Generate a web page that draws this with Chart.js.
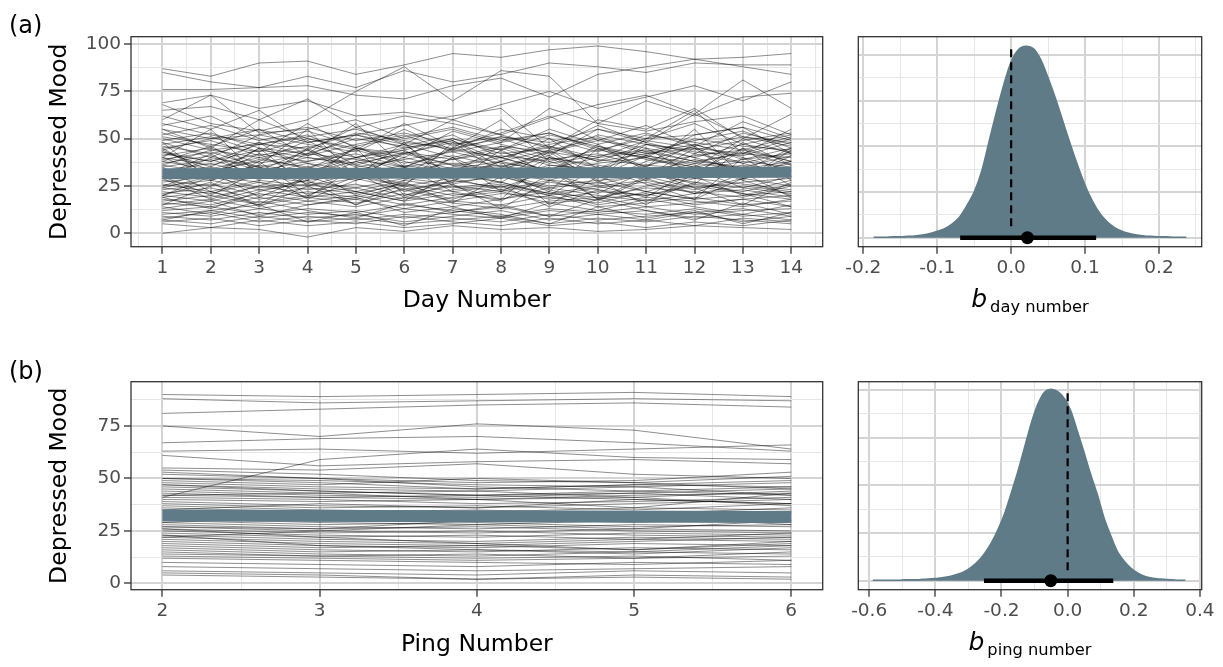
<!DOCTYPE html>
<html>
<head>
<meta charset="utf-8">
<script src="https://cdn.jsdelivr.net/npm/chart.js@4.4.1/dist/chart.umd.min.js"></script>
<style>
  html, body { margin: 0; padding: 0; background: #fff; }
  canvas { position: absolute; }
</style>
</head>
<body>
<canvas id="dayLines" style="left:0;top:0" width="840" height="330"></canvas>
<canvas id="dayPost" style="left:840px;top:0" width="383" height="330"></canvas>
<canvas id="pingLines" style="left:0;top:340px" width="840" height="327"></canvas>
<canvas id="pingPost" style="left:840px;top:340px" width="383" height="327"></canvas>
<script>
// ---- data ----
const dayNumbers = [1, 2, 3, 4, 5, 6, 7, 8, 9, 10, 11, 12, 13, 14];
const pingNumbers = [2, 3, 4, 5, 6];

// one row per participant, one value per day
const dayMood = [
  [87,83,90,91,84,89,95,93,97,99,96,92,93,95],
  [85,80,77,83,77,86,80,84,90,88,85,90,89,89],
  [76,76,77,78,73,71,78,82,72,84,88,92,88,84],
  [69,73,66,70,62,64,60,68,75,66,72,78,70,80],
  [68,58,54,60,75,88,70,86,83,58,70,62,72,74],
  [65,67,60,71,56,62,58,52,61,68,73,63,81,66],
  [62,55,65,48,52,57,62,66,45,60,55,66,50,63],
  [60,73,53,55,60,50,55,48,66,58,54,59,62,52],
  [55,50,52,56,49,53,47,51,48,55,50,52,56,49],
  [53,46,55,48,52,45,50,44,55,47,53,46,51,48],
  [52,57,49,54,46,51,56,49,53,44,50,58,47,52],
  [50,44,47,51,55,48,45,50,42,52,47,44,49,53],
  [49,53,45,42,50,46,52,40,47,51,43,49,54,45],
  [48,40,52,47,43,55,44,51,46,40,49,45,42,50],
  [47,51,43,50,45,42,48,44,52,46,41,50,46,44],
  [46,42,48,41,52,47,40,46,43,49,45,40,47,43],
  [45,49,41,46,40,44,50,42,45,38,47,43,41,48],
  [55,45,60,50,44,58,46,53,62,49,57,46,59,50],
  [57,62,50,44,56,47,60,52,45,57,48,63,51,46],
  [44,50,55,41,47,52,43,48,53,45,40,52,56,42],
  [51,47,43,58,45,40,54,47,41,55,48,42,53,47],
  [43,38,47,52,40,45,49,38,44,50,42,47,39,45],
  [58,52,47,45,53,49,44,55,50,43,52,48,44,51],
  [42,38,44,40,36,43,39,45,37,41,44,38,42,40],
  [41,45,37,42,39,35,44,40,46,38,42,45,37,43],
  [40,36,42,38,44,37,41,35,43,39,36,41,44,38],
  [39,43,35,40,37,42,36,41,38,44,40,35,39,42],
  [38,34,40,44,35,39,43,37,34,40,43,38,35,41],
  [37,41,33,38,42,35,39,43,36,34,41,37,43,36],
  [36,32,39,35,40,33,37,34,40,36,32,39,34,38],
  [35,39,31,37,33,40,34,38,32,37,40,33,38,35],
  [34,30,36,32,38,31,35,40,33,30,36,34,31,37],
  [33,37,30,35,31,36,32,29,36,33,30,37,34,31],
  [32,28,35,30,34,29,33,36,30,34,29,32,36,30],
  [31,35,29,33,28,34,30,32,28,35,31,29,33,34],
  [45,30,42,28,46,35,27,44,31,47,33,26,45,38],
  [30,42,28,45,32,26,40,29,43,27,38,46,29,41],
  [43,35,48,32,40,47,30,38,50,34,45,31,48,36],
  [38,46,33,44,30,42,49,35,41,29,47,40,33,45],
  [29,40,35,26,38,44,31,27,40,35,28,42,37,30],
  [44,33,38,49,36,31,45,40,33,46,39,35,50,42],
  [36,44,40,34,45,38,32,46,39,42,35,47,40,33],
  [40,31,45,37,29,43,36,33,44,30,41,36,28,44],
  [28,25,30,27,24,29,26,31,25,28,30,24,27,29],
  [27,30,24,28,31,25,29,23,28,26,31,27,24,30],
  [26,22,28,25,29,23,27,30,24,27,22,29,26,23],
  [25,28,23,26,22,28,24,27,21,25,28,23,29,25],
  [24,21,27,23,26,20,25,22,27,23,20,26,22,28],
  [23,26,20,24,21,26,22,25,20,24,27,21,25,22],
  [22,19,25,21,24,18,23,26,21,19,24,22,19,25],
  [21,24,18,22,19,25,20,23,18,22,20,25,21,18],
  [20,17,23,19,22,17,21,18,24,20,17,21,23,19],
  [19,22,16,20,18,23,17,21,19,16,22,18,20,22],
  [18,15,21,17,20,15,19,22,16,18,21,15,18,20],
  [17,20,15,19,16,21,14,18,22,15,19,17,14,18],
  [16,14,19,15,18,13,17,15,20,14,16,19,15,17],
  [15,18,13,17,14,19,16,13,17,19,14,16,18,14],
  [30,20,33,18,28,35,22,17,31,25,19,34,24,21],
  [25,33,19,30,22,17,32,27,20,35,26,18,29,33],
  [20,27,14,25,32,19,26,13,28,21,33,24,15,27],
  [29,18,25,34,20,27,16,30,23,17,29,21,32,19],
  [24,30,27,19,35,22,28,24,33,18,25,30,20,26],
  [19,13,22,28,15,24,18,25,14,23,17,27,21,14],
  [12,14,10,13,11,15,12,9,13,11,14,10,12,13],
  [11,9,13,10,12,8,11,14,9,12,10,13,9,11],
  [10,12,8,11,9,13,10,8,12,10,7,11,13,9],
  [9,7,11,8,10,6,9,12,7,10,12,8,10,7],
  [8,11,6,9,7,10,8,6,10,7,9,11,6,9],
  [7,5,9,6,8,5,7,9,5,8,6,9,7,5],
  [6,8,4,7,5,9,6,4,8,5,7,4,8,6],
  [5,3,7,4,6,3,5,8,4,6,3,6,4,7],
  [0,3,2,-2,3,1,4,2,3,1,2,4,3,2],
  [14,10,17,12,8,16,11,15,9,18,12,7,16,10],
  [13,17,9,15,19,11,14,8,16,12,18,14,10,15],
  [7,12,15,6,11,4,13,10,5,14,8,12,5,11],
  [20,30,45,25,15,28,40,22,35,18,30,45,28,20],
  [35,22,15,30,45,20,28,38,15,30,22,18,40,25],
  [48,28,36,55,30,25,48,32,22,45,35,55,30,38],
  [15,25,38,20,30,48,25,18,40,28,15,32,45,28],
  [40,55,30,42,58,35,45,60,38,30,50,65,42,55]
];

// one row per participant, one value per ping
const pingMood = [
  [90,89,90,91,89], [88,86,87,88,87], [81,83,85,86,84], [75,70,76,73,64],
  [67,69,70,67,63], [63,64,62,64,66], [61,56,58,59,57], [41,59,64,60,59],
  [55,54,57,52,50], [54,52,49,48,51], [52,50,48,49,53], [50,49,47,46,48],
  [49,47,50,48,45], [48,46,45,47,49], [47,45,44,46,42], [46,44,42,43,45],
  [45,43,44,41,44], [44,42,41,43,40], [43,41,40,42,43], [42,41,42,40,38],
  [41,40,38,39,41], [40,39,40,41,37], [39,37,36,38,40], [38,36,37,35,38],
  [37,35,34,36,35], [36,34,35,33,36], [35,33,32,34,33], [34,32,33,31,34],
  [33,31,30,32,30], [32,30,31,29,31], [31,29,28,30,29], [30,28,29,27,28],
  [29,27,26,28,27], [28,26,27,25,24], [27,25,24,26,25], [26,24,25,23,22],
  [25,23,22,24,23], [24,22,23,21,24], [23,21,20,22,21], [22,20,19,21,20],
  [21,19,18,20,22], [20,18,17,19,18], [19,17,18,16,19], [18,16,15,17,16],
  [17,15,16,14,17], [16,14,13,15,14], [15,13,14,12,15], [14,13,12,13,11],
  [13,12,11,12,13], [12,11,10,9,11], [10,9,8,10,9], [8,7,6,7,8],
  [6,5,4,6,5], [5,4,2,4,3], [4,3,2,3,2], [50,48,45,47,46],
  [42,43,40,36,43], [27,26,30,32,28], [22,25,28,26,30], [35,38,36,40,38],
  [47,44,42,44,46], [26,22,19,16,20], [23,18,16,15,18], [53,50,46,44,42],
  [29,32,33,30,34]
];

// fitted average line (value at first and last occasion)
const dayTrendX = [1, 14];
const dayTrend = [31.4, 32.3];
const pingTrendX = [2, 6];
const pingTrend = [32.3, 31.6];

// posterior of the slope: density curve, 95% interval, median
const dayDensX = [-0.186,-0.18,-0.17,-0.16,-0.15,-0.14,-0.13,-0.12,-0.11,-0.10,-0.09,-0.08,-0.07,-0.06,-0.05,-0.04,-0.03,-0.02,-0.01,
  0.00,0.01,0.02,0.03,0.04,0.05,0.06,0.07,0.08,0.09,0.10,0.11,0.12,0.13,0.14,0.15,0.16,0.17,0.18,0.19,0.20,0.21,0.22,0.23,0.237];
const dayDensY = [0.01,0.01,0.01,0.02,0.02,0.03,0.04,0.06,0.09,0.14,0.2,0.3,0.45,0.7,1.0,1.45,2.1,2.75,3.35,
  3.85,4.12,4.19,4.14,3.9,3.5,3.05,2.55,2.05,1.58,1.15,0.8,0.53,0.35,0.22,0.14,0.09,0.06,0.04,0.03,0.02,0.02,0.01,0.01,0.01];
const dayInterval = [-0.069, 0.115];
const dayMedian = 0.022;
const dayZeroLine = [0.25, 4.15];

const pingDensX = [-0.589,-0.57,-0.55,-0.53,-0.51,-0.49,-0.47,-0.45,-0.43,-0.41,-0.39,-0.37,-0.35,-0.33,-0.31,-0.29,-0.27,-0.25,-0.23,-0.21,
  -0.19,-0.17,-0.15,-0.13,-0.11,-0.09,-0.07,-0.05,-0.03,-0.01,0.01,0.03,0.05,0.07,0.09,0.11,0.13,0.15,0.17,0.19,0.21,0.23,0.25,0.27,0.29,0.31,0.33,0.35,0.356];
const pingDensY = [0.01,0.01,0.01,0.01,0.01,0.02,0.02,0.02,0.03,0.04,0.05,0.07,0.1,0.14,0.2,0.29,0.41,0.58,0.8,1.08,
  1.42,1.85,2.3,2.8,3.3,3.7,3.95,4.01,3.96,3.82,3.55,3.12,2.68,2.22,1.8,1.32,0.95,0.62,0.42,0.27,0.17,0.1,0.06,0.04,0.03,0.02,0.01,0.01,0.01];
const pingInterval = [-0.253, 0.138];
const pingMedian = -0.051;
const pingZeroLine = [0.22, 4.0];

// tick positions (major + minor grid)
const dayTicks = [0.5,1,1.5,2,2.5,3,3.5,4,4.5,5,5.5,6,6.5,7,7.5,8,8.5,9,9.5,10,10.5,11,11.5,12,12.5,13,13.5,14,14.5];
const pingTicks = [2,2.5,3,3.5,4,4.5,5,5.5,6];
const moodTicksA = [0,12.5,25,37.5,50,62.5,75,87.5,100];
const moodTicksB = [0,12.5,25,37.5,50,62.5,75,87.5];
const dayPostTicks = [-0.2,-0.15,-0.1,-0.05,0,0.05,0.1,0.15,0.2,0.25];
const pingPostTicks = [-0.6,-0.5,-0.4,-0.3,-0.2,-0.1,0,0.1,0.2,0.3,0.4];
const densTicks = [0,0.5,1,1.5,2,2.5,3,3.5,4];

// ---- styling ----
Chart.defaults.font.family = "'DejaVu Sans', sans-serif";
const FILL = "#5f7b88";
const MAJOR = "#d4d4d4";
const MINOR = "#e6e6e6";
const INK = "#333333";

const isInt = v => Math.abs(v - Math.round(v)) < 1e-9;
const isQuarter = v => Math.abs(v / 25 - Math.round(v / 25)) < 1e-9;
const isTenth = v => Math.round(v * 100) % 10 === 0;
const isFifth = v => Math.round(v * 10) % 2 === 0;

function axis(min, max, values, isMajor, fmt, extra, tickMarks = true) {
  return Object.assign({
    type: "linear",
    min: min,
    max: max,
    afterBuildTicks: s => { s.ticks = values.map(v => ({ value: v })); },
    border: { display: false },
    grid: {
      color: c => isMajor(c.tick.value) ? MAJOR : MINOR,
      lineWidth: c => isMajor(c.tick.value) ? 2 : 1,
      drawTicks: tickMarks,
      tickColor: c => isMajor(c.tick.value) ? INK : "rgba(0,0,0,0)",
      tickWidth: 1.3,
      tickLength: 7
    },
    ticks: {
      autoSkip: false,
      maxRotation: 0,
      color: "#4d4d4d",
      font: { size: 18.5 },
      padding: 3,
      callback: v => isMajor(v) ? fmt(v) : ""
    }
  }, extra);
}

const frame = {
  id: "frame",
  afterDatasetsDraw(chart) {
    const { ctx, chartArea: a } = chart;
    ctx.save();
    ctx.strokeStyle = INK;
    ctx.lineWidth = 1.3;
    ctx.strokeRect(a.left, a.top, a.right - a.left, a.bottom - a.top);
    ctx.restore();
  }
};

function panelTag(text, y) {
  return {
    id: "panelTag",
    afterDraw(chart) {
      const ctx = chart.ctx;
      ctx.save();
      ctx.fillStyle = "#000";
      ctx.font = "24px 'DejaVu Sans'";
      ctx.textBaseline = "alphabetic";
      ctx.fillText(text, 9, y);
      ctx.restore();
    }
  };
}

function subLabel(main, sub, baseline) {
  return {
    id: "subLabel",
    afterDraw(chart) {
      const { ctx, chartArea: a } = chart;
      const bigFont = "italic 25px 'DejaVu Sans'";
      const smallFont = "16.3px 'DejaVu Sans'";
      ctx.save();
      ctx.fillStyle = "#000";
      ctx.textBaseline = "alphabetic";
      ctx.font = bigFont;
      const w1 = ctx.measureText(main).width;
      ctx.font = smallFont;
      const w2 = ctx.measureText(sub).width;
      const gap = 3;
      const x = (a.left + a.right) / 2 - (w1 + gap + w2) / 2;
      ctx.font = bigFont;
      ctx.fillText(main, x, baseline);
      ctx.font = smallFont;
      ctx.fillText(sub, x + w1 + gap, baseline + 5);
      ctx.restore();
    }
  };
}

function spaghetti(id, xs, rows, trendX, trendY, cfg) {
  const datasets = rows.map(row => ({
    data: row.map((y, j) => ({ x: xs[j], y: y })),
    borderColor: "rgba(0,0,0,0.6)",
    borderWidth: 0.75,
    pointRadius: 0,
    order: 1
  }));
  datasets.push({
    data: trendY.map((y, j) => ({ x: trendX[j], y: y })),
    borderColor: FILL,
    borderWidth: cfg.trendWidth,
    borderCapStyle: "butt",
    pointRadius: 0,
    order: 0
  });

  // eslint-disable-next-line no-new
  new Chart(document.getElementById(id), {
    type: "line",
    data: { datasets: datasets },
    plugins: [frame, panelTag(cfg.tag, cfg.tagY)],
    options: {
      responsive: false,
      animation: false,
      layout: { padding: { top: cfg.top, right: 17.3, left: 0, bottom: 0 } },
      plugins: { legend: { display: false }, tooltip: { enabled: false } },
      scales: {
        x: axis(cfg.xMin, cfg.xMax, cfg.xTicks, isInt, v => String(v), {
          afterFit: s => { s.height = cfg.xHeight; },
          title: {
            display: true, text: cfg.xTitle, color: "#000",
            font: { size: 23.5 }, padding: { top: 0, bottom: cfg.xTitlePad }
          }
        }),
        y: axis(cfg.yMin, cfg.yMax, cfg.yTicks, isQuarter, v => String(v), {
          afterFit: s => { s.width = 131; },
          title: {
            display: true, text: "Depressed Mood", color: "#000",
            font: { size: 23.5 }, padding: { top: 46, bottom: 0 }
          }
        })
      }
    }
  });
}

function posterior(id, xs, ys, interval, median, zeroLine, cfg) {
  // eslint-disable-next-line no-new
  new Chart(document.getElementById(id), {
    type: "line",
    data: {
      datasets: [
        {
          data: xs.map((x, i) => ({ x: x, y: ys[i] })),
          fill: "origin",
          backgroundColor: FILL,
          borderColor: FILL,
          borderWidth: 1.5,
          tension: 0.3,
          pointRadius: 0,
          order: 3
        },
        {
          data: [{ x: 0, y: zeroLine[0] }, { x: 0, y: zeroLine[1] }],
          borderColor: "#000",
          borderWidth: 2.2,
          borderDash: [8, 5],
          pointRadius: 0,
          order: 2
        },
        {
          data: [{ x: interval[0], y: 0 }, { x: interval[1], y: 0 }],
          borderColor: "#000",
          borderWidth: 4.5,
          borderCapStyle: "butt",
          pointRadius: 0,
          order: 1
        },
        {
          data: [{ x: median, y: 0 }],
          showLine: false,
          pointRadius: 6.5,
          pointBackgroundColor: "#000",
          pointBorderWidth: 0,
          order: 0
        }
      ]
    },
    plugins: [frame, subLabel("b", cfg.sub, cfg.labelY)],
    options: {
      responsive: false,
      animation: false,
      layout: { padding: { top: cfg.top, right: 21.3, left: 0, bottom: 0 } },
      plugins: { legend: { display: false }, tooltip: { enabled: false } },
      scales: {
        x: axis(cfg.xMin, cfg.xMax, cfg.xTicks, cfg.major, v => v.toFixed(1), {
          afterFit: s => { s.height = cfg.xHeight; }
        }),
        y: axis(cfg.yMin, cfg.yMax, densTicks, isInt, () => "", {
          afterFit: s => { s.width = 18.3; }
        }, false)
      }
    }
  });
}

spaghetti("dayLines", dayNumbers, dayMood, dayTrendX, dayTrend, {
  tag: "(a)", tagY: 33, top: 36.7, xHeight: 83.3,
  xMin: 0.35, xMax: 14.65, xTicks: dayTicks, xTitle: "Day Number", xTitlePad: 15,
  yMin: -7.1, yMax: 103.9, yTicks: moodTicksA, trendWidth: 11
});

spaghetti("pingLines", pingNumbers, pingMood, pingTrendX, pingTrend, {
  tag: "(b)", tagY: 39, top: 41.7, xHeight: 77.3,
  xMin: 1.8, xMax: 6.2, xTicks: pingTicks, xTitle: "Ping Number", xTitlePad: 8,
  yMin: -3.0, yMax: 96.1, yTicks: moodTicksB, trendWidth: 12
});

posterior("dayPost", dayDensX, dayDensY, dayInterval, dayMedian, dayZeroLine, {
  sub: "day number", labelY: 306.7, top: 36.7, xHeight: 83.3,
  xMin: -0.2068, xMax: 0.2578, xTicks: dayPostTicks, major: isTenth,
  yMin: -0.197, yMax: 4.40
});

posterior("pingPost", pingDensX, pingDensY, pingInterval, pingMedian, pingZeroLine, {
  sub: "ping number", labelY: 310, top: 41.7, xHeight: 77.3,
  xMin: -0.633, xMax: 0.4054, xTicks: pingPostTicks, major: isFifth,
  yMin: -0.19, yMax: 4.17
});
</script>
</body>
</html>
